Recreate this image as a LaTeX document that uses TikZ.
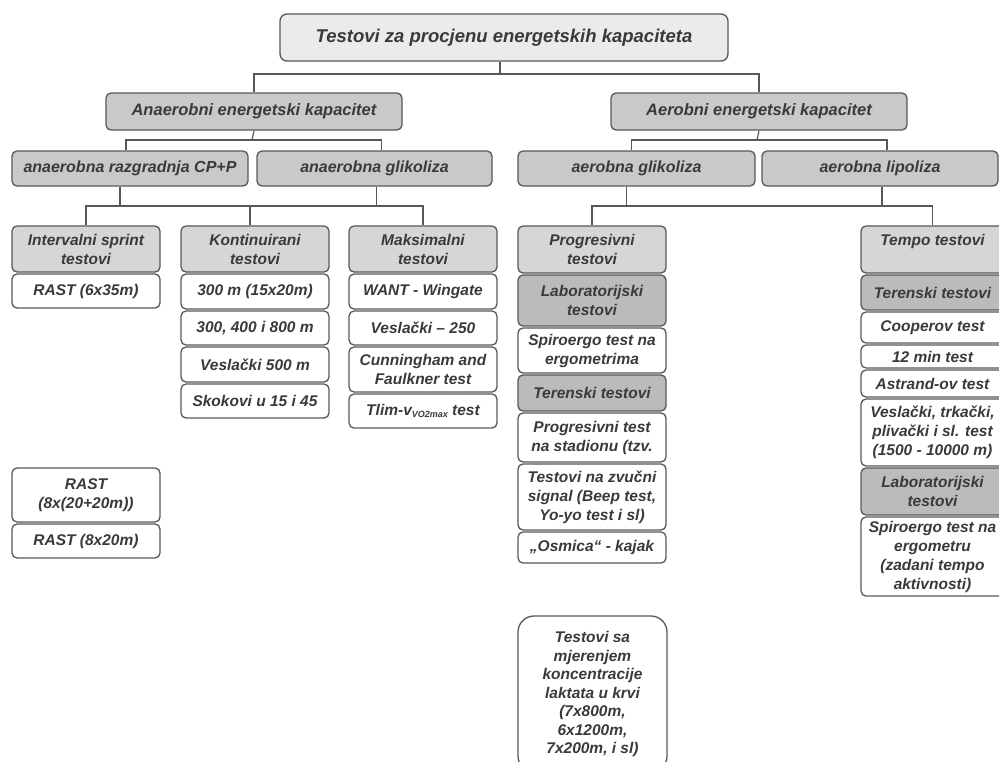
\documentclass[tikz,border=0pt]{standalone}
\usepackage{fontspec}
\setmainfont{Liberation Sans}
\definecolor{bord}{HTML}{585858}
\definecolor{txt}{HTML}{3A3A3A}
\definecolor{topfill}{HTML}{EBEBEB}
\definecolor{lvlfill}{HTML}{C9C9C9}
\definecolor{catfill}{HTML}{D6D6D6}
\definecolor{subfill}{HTML}{BBBBBB}
\tikzset{
  box/.style={draw=bord, line width=1.3pt, rounded corners=5pt, inner sep=0pt,
    align=center, text=txt, fill=white,
    font=\fontsize{15.5}{19}\selectfont\bfseries\itshape},
  topbox/.style={box, fill=topfill, rounded corners=7pt, font=\fontsize{18.5}{22}\selectfont\bfseries\itshape},
  lvlbox/.style={box, fill=lvlfill, font=\fontsize{16.5}{20}\selectfont\bfseries\itshape},
  subbox/.style={box, fill=lvlfill, font=\fontsize{16}{20}\selectfont\bfseries\itshape},
  catbox/.style={box, fill=catfill},
  darkbox/.style={box, fill=subfill},
  bigbox/.style={box, rounded corners=16pt, font=\fontsize{15.5}{18.5}\selectfont\bfseries\itshape},
  conn/.style={draw=bord, line width=1.2pt}
}
% \bx{style}{x1}{y1}{x2}{y2}{name}{text}
\newcommand{\bx}[7]{\node[#1, minimum width={(#4)-(#2)}, minimum height={(#5)-(#3)}]
  (#6) at ({((#2)+(#4))/2},{((#3)+(#5))/2}) {#7};}
\begin{document}
\begin{tikzpicture}[x=1pt,y=-1pt]
\useasboundingbox (0,0) rectangle (999,761);
\clip (0,0) rectangle (999,761);
\fill[white] (0,0) rectangle (999,761);
% top
\bx{topbox}{280}{14}{728}{61}{top}{Testovi za procjenu energetskih kapaciteta}
% level 2
\bx{lvlbox}{106}{93}{402}{130}{an}{Anaerobni energetski kapacitet}
\bx{lvlbox}{611}{93}{907}{130}{ae}{Aerobni energetski kapacitet}
% level 3
\bx{subbox}{12}{151}{248}{186}{anr}{anaerobna razgradnja CP+P}
\bx{subbox}{257}{151}{492}{186}{ang}{anaerobna glikoliza}
\bx{subbox}{518}{151}{755}{186}{aeg}{aerobna glikoliza}
\bx{subbox}{762}{151}{998}{186}{ael}{aerobna lipoliza}
% column 1
\bx{catbox}{12}{226}{160}{272}{ints}{Intervalni sprint\\testovi}
\bx{box}{12}{274}{160}{308}{r1}{RAST (6x35m)}
\bx{box}{12}{468}{160}{522}{r2}{RAST\\(8x(20+20m))}
\bx{box}{12}{524}{160}{558}{r3}{RAST (8x20m)}
% column 2
\bx{catbox}{181}{226}{329}{272}{kont}{Kontinuirani\\testovi}
\bx{box}{181}{274}{329}{309}{k1}{300 m (15x20m)}
\bx{box}{181}{311}{329}{345}{k2}{300, 400 i 800 m}
\bx{box}{181}{347}{329}{382}{k3}{Veslački 500 m}
\bx{box}{181}{384}{329}{418}{k4}{Skokovi u 15 i 45}
% column 3
\bx{catbox}{349}{226}{497}{272}{maks}{Maksimalni\\testovi}
\bx{box}{349}{274}{497}{309}{m1}{WANT - Wingate}
\bx{box}{349}{311}{497}{345}{m2}{Veslački – 250}
\bx{box}{349}{347}{497}{392}{m3}{Cunningham and\\Faulkner test}
\bx{box}{349}{394}{497}{428}{m4}{Tlim-v\raisebox{-2.5pt}{\fontsize{9}{9}\selectfont VO2max} test}
% column 4
\bx{catbox}{518}{226}{666}{273}{prog}{Progresivni\\testovi}
\bx{darkbox}{518}{275}{666}{326}{lab1}{Laboratorijski\\testovi}
\bx{box}{518}{328}{666}{373}{sp1}{Spiroergo test na\\ergometrima}
\bx{darkbox}{518}{375}{666}{411}{ter1}{Terenski testovi}
\bx{box}{518}{413}{666}{462}{pt}{Progresivni test\\na stadionu (tzv.}
\bx{box}{518}{464}{666}{530}{zv}{Testovi na zvučni\\signal (Beep test,\\Yo-yo test i sl)}
\bx{box}{518}{532}{666}{563}{osm}{„Osmica“ - kajak}
\bx{bigbox}{518}{616}{667}{772}{lak}{Testovi sa\\mjerenjem\\koncentracije\\laktata u krvi\\(7x800m,\\6x1200m,\\7x200m, i sl)}
% column 5
\bx{catbox}{861}{226}{1004}{273}{tempo}{Tempo testovi\\\mbox{}}
\bx{darkbox}{861}{275}{1004}{310}{ter2}{Terenski testovi}
\bx{box}{861}{312}{1004}{343}{c1}{Cooperov test}
\bx{box}{861}{345}{1004}{368}{c2}{12 min test}
\bx{box}{861}{370}{1004}{397}{c3}{Astrand-ov test}
\bx{box}{861}{399}{1004}{466}{c4}{Veslački, trkački,\\plivački i sl. test\\(1500 - 10000 m)}
\bx{darkbox}{861}{468}{1004}{515}{lab2}{Laboratorijski\\testovi}
\bx{box}{861}{517}{1004}{596}{sp2}{Spiroergo test na\\ergometru\\(zadani tempo\\aktivnosti)}
% junctions
\coordinate (j1) at (500,74);
\coordinate (j2) at (252,140);
\coordinate (j3) at (757,140);
\coordinate (j4) at (250,206);
\coordinate (j5) at (760,206);
% connectors
\draw[conn] ([xshift=-4pt]top.south) -- (j1);
\draw[conn] (an.north) |- (j1) -| (ae.north);
\draw[conn] (an.south) -- (j2);
\draw[conn] ([xshift=-4pt]anr.north) |- (j2) -| ([xshift=7pt]ang.north);
\draw[conn] (ae.south) -- (j3);
\draw[conn] ([xshift=-5pt]aeg.north) |- (j3) -| ([xshift=7pt]ael.north);
\draw[conn] ([xshift=-10pt]anr.south) -- ([xshift=-10pt]anr.south |- j4);
\draw[conn] ([xshift=2pt]ang.south) -- ([xshift=2pt]ang.south |- j4);
\draw[conn] (ints.north) |- (j4) -| (maks.north);
\draw[conn] ([xshift=-5pt]kont.north) -- ([xshift=-5pt]kont.north |- j4);
\draw[conn] ([xshift=-10pt]aeg.south) -- ([xshift=-10pt]aeg.south |- j5);
\draw[conn] ([xshift=2pt]ael.south) -- ([xshift=2pt]ael.south |- j5);
\draw[conn] (prog.north) |- (j5) -| (tempo.north);
\end{tikzpicture}
\end{document}
